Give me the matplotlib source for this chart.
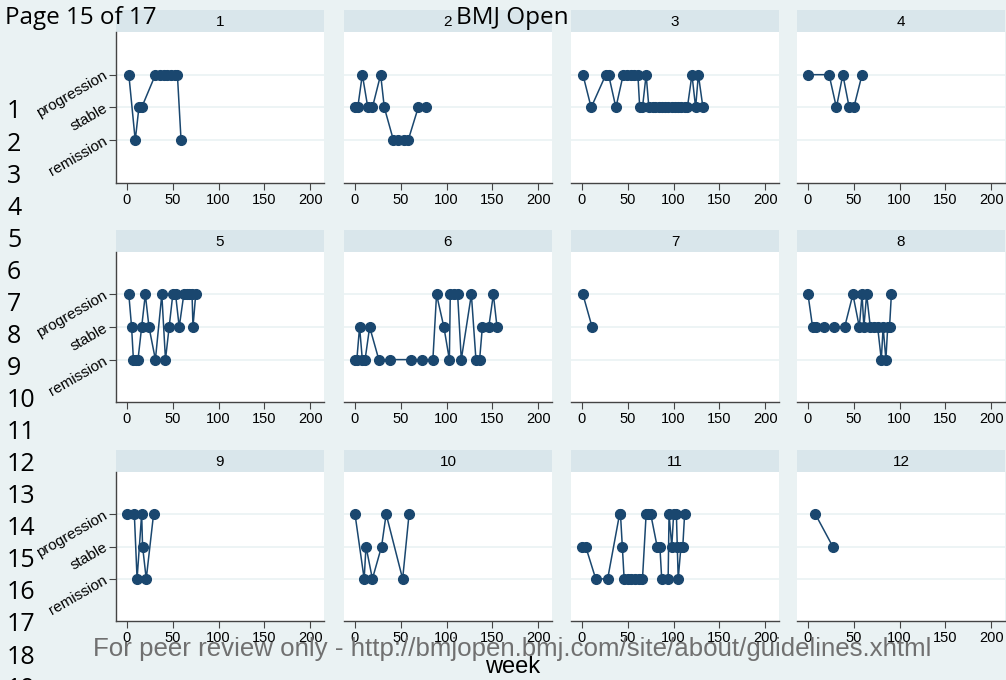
import numpy as np
import matplotlib.pyplot as plt

W, H = 1006, 680
plt.rcParams['font.family'] = ['Liberation Sans', 'DejaVu Sans']

# state codes: 1 = remission, 2 = stable, 3 = progression
state_ticks = [1, 2, 3]
state_labels = ['remission', 'stable', 'progression']
week_ticks = [0, 50, 100, 150, 200]

p1_week = [2, 9, 13, 16, 31, 36, 40, 44, 48, 52, 55, 59]
p1_state = [3, 1, 2, 2, 3, 3, 3, 3, 3, 3, 3, 1]
p2_week = [0, 3, 8, 14, 19, 28, 32, 42, 47, 53, 58, 69, 78]
p2_state = [2, 2, 3, 2, 2, 3, 2, 1, 1, 1, 1, 2, 2]
p3_week = [1, 10, 26, 29, 37, 45, 49, 53, 57, 61, 63, 66, 70, 73, 77, 80, 84, 87,
           91, 94, 98, 101, 105, 108, 112, 115, 120, 124, 127, 132]
p3_state = [3, 2, 3, 3, 2, 3, 3, 3, 3, 3, 2, 2, 3, 2, 2, 2, 2, 2,
            2, 2, 2, 2, 2, 2, 2, 2, 3, 2, 3, 2]
p4_week = [0, 23, 31, 38, 45, 50, 59]
p4_state = [3, 3, 2, 3, 2, 2, 3]
p5_week = [2, 5, 7, 10, 12, 16, 20, 24, 31, 38, 42, 46, 50, 53, 57, 62, 65, 68, 71, 72, 75]
p5_state = [3, 2, 1, 1, 1, 2, 3, 2, 1, 3, 1, 2, 3, 3, 2, 3, 3, 3, 3, 2, 3]
p6_week = [0, 2, 5, 8, 11, 16, 26, 38, 61, 73, 85, 89, 97, 103, 104, 108, 112, 116,
           127, 132, 136, 139, 146, 151, 155]
p6_state = [1, 1, 2, 1, 1, 2, 1, 1, 1, 1, 1, 3, 2, 1, 3, 3, 3, 1,
            3, 1, 1, 2, 2, 3, 2]
p7_week = [1, 11]
p7_state = [3, 2]
p8_week = [0, 5, 9, 17, 28, 40, 49, 56, 59, 61, 64, 68, 72, 76, 80, 82, 85, 87, 89, 91]
p8_state = [3, 2, 2, 2, 2, 2, 3, 2, 3, 2, 3, 2, 2, 2, 1, 2, 1, 2, 2, 3]
p9_week = [0, 8, 11, 16, 17, 21, 29]
p9_state = [3, 3, 1, 3, 2, 1, 3]
p10_week = [0, 10, 12, 19, 29, 34, 52, 59]
p10_state = [3, 1, 2, 1, 2, 3, 1, 3]
p11_week = [0, 4, 15, 28, 41, 42, 44, 46, 50, 54, 58, 62, 66, 70, 72, 75, 82, 85,
            87, 94, 95, 98, 100, 103, 104, 105, 108, 110, 112]
p11_state = [2, 2, 1, 1, 3, 3, 2, 1, 1, 1, 1, 1, 1, 3, 3, 3, 2, 2,
             1, 1, 3, 2, 3, 3, 2, 1, 2, 2, 3]
p12_week = [8, 27]
p12_state = [3, 2]

panels = [(p1_week, p1_state), (p2_week, p2_state), (p3_week, p3_state), (p4_week, p4_state),
          (p5_week, p5_state), (p6_week, p6_state), (p7_week, p7_state), (p8_week, p8_state),
          (p9_week, p9_state), (p10_week, p10_state), (p11_week, p11_state), (p12_week, p12_state)]

bg = '#eaf2f3'
strip = '#d9e6eb'
navy = '#1a476f'
axc = '#444444'


def rect(x, y, w, h):
    return [x / W, 1 - (y + h) / H, w / W, h / H]


fig = plt.figure(figsize=(W / 100, H / 100), dpi=100, facecolor=bg)

col_x = [116, 344, 571, 797]
col_w = 208
row_y = [10, 230, 450]
strip_h = 22
plot_h = [151, 150, 149]

for i, (wk, st) in enumerate(panels):
    r, c = divmod(i, 4)
    x0 = col_x[c]
    y0 = row_y[r]
    sax = fig.add_axes(rect(x0, y0, col_w, strip_h))
    sax.set_facecolor(strip)
    sax.set_xticks([])
    sax.set_yticks([])
    for s in sax.spines.values():
        s.set_visible(False)
    sax.text(0.5, 0.45, str(i + 1), ha='center', va='center', fontsize=11,
             transform=sax.transAxes)

    ax = fig.add_axes(rect(x0, y0 + strip_h, col_w, plot_h[r]))
    ax.set_facecolor('white')
    for y in state_ticks:
        ax.axhline(y, color=bg, lw=1.2, zorder=0)
    ax.plot(wk, st, '-o', color=navy, lw=1.1, ms=7, zorder=3)
    ax.set_xlim(-12, 215)
    ax.set_ylim(-0.3, 4.3)
    ax.set_xticks(week_ticks)
    ax.tick_params(axis='x', length=5, color=axc, labelsize=10.5, pad=2)
    for s in ['top', 'right']:
        ax.spines[s].set_visible(False)
    ax.spines['bottom'].set_color(axc)
    ax.spines['bottom'].set_linewidth(1.0)
    if c == 0:
        ax.spines['left'].set_color(axc)
        ax.spines['left'].set_linewidth(1.0)
        ax.set_yticks(state_ticks)
        ax.set_yticklabels(state_labels, rotation=30, ha='right', va='center',
                           rotation_mode='anchor')
        ax.tick_params(axis='y', length=5, color=axc, labelsize=11, pad=2)
    else:
        ax.spines['left'].set_visible(False)
        ax.set_yticks([])

# page overlay texts
fig.text(5 / W, 1 - 18 / H, 'Page 15 of 17', ha='left', va='center', fontsize=17.5,
         family=['Open Sans', 'DejaVu Sans'])
fig.text(512 / W, 1 - 18 / H, 'BMJ Open', ha='center', va='center', fontsize=17.5,
         family=['Open Sans', 'DejaVu Sans'])
for n in range(1, 20):
    fig.text(7 / W, 1 - (112 + (n - 1) * 32.06) / H, str(n), ha='left', va='center',
             fontsize=18, family=['Open Sans', 'DejaVu Sans'])
fig.text(512 / W, 1 - 649 / H,
         'For peer review only - http://bmjopen.bmj.com/site/about/guidelines.xhtml',
         ha='center', va='center', fontsize=18.6, color='#707070',
         family=['Liberation Sans Narrow', 'Liberation Sans'])
fig.text(513 / W, 1 - 667 / H, 'week', ha='center', va='center', fontsize=17)

fig.savefig('out.png', dpi=100, facecolor=bg)
